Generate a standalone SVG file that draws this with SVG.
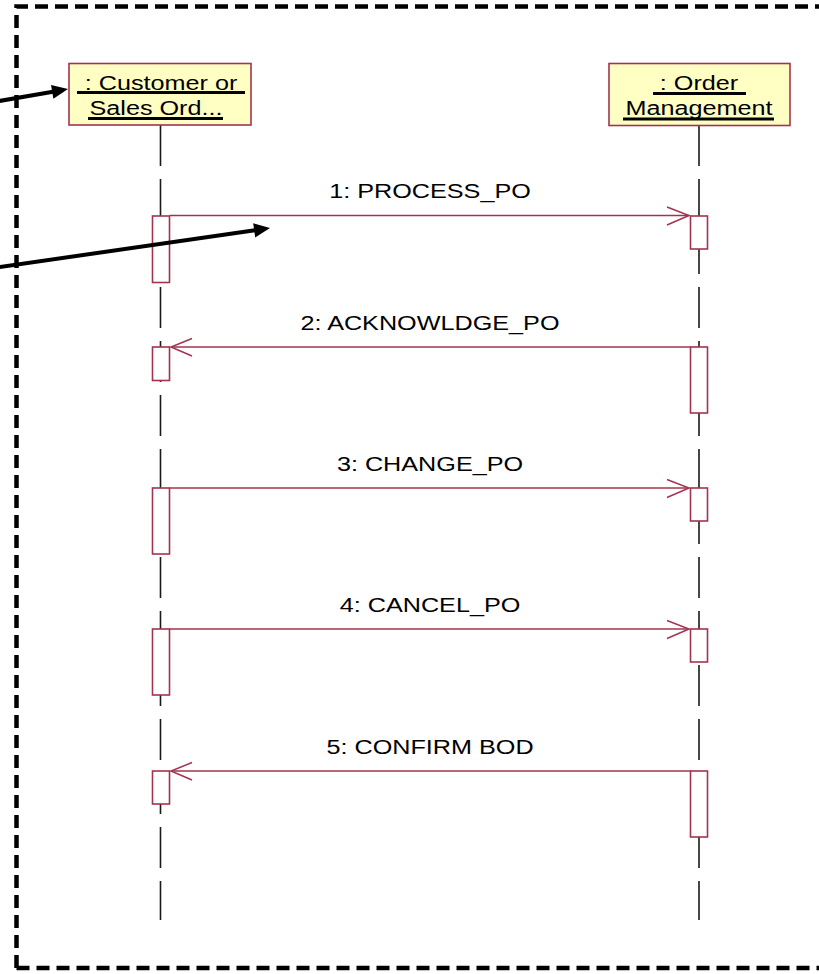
<svg xmlns="http://www.w3.org/2000/svg" width="819" height="974" viewBox="0 0 819 974">
  <style>
    .frame { fill: none; stroke: #000; stroke-width: 4.5; stroke-dasharray: 13 7; }
    .lifeline { fill: none; stroke: #1a1a1a; stroke-width: 1.6; stroke-dasharray: 41 13; }
    .obj { fill: #FFFFC4; stroke: #A3344F; stroke-width: 1.6; }
    .objtext { font-family: "Liberation Sans", Arial, sans-serif; font-size: 21px; fill: #000; text-anchor: middle; }
    .ul { stroke: #000; stroke-width: 3; }
    .act { fill: #fff; stroke: #A3344F; stroke-width: 1.6; }
    .msg { fill: none; stroke: #A3344F; stroke-width: 1.5; }
    .msgtext { font-family: "Liberation Sans", Arial, sans-serif; font-size: 21px; fill: #000; text-anchor: middle; }
    .note { fill: none; stroke: #000; stroke-width: 4; }
    .notehead { fill: #000; stroke: none; }
  </style>

  <rect x="0" y="0" width="819" height="974" fill="#fff"/>

  <g id="frame">
    <path class="frame" d="M16.5 968 L16.5 6.5 L830 6.5"/>
    <path class="frame" d="M16.5 968 L830 968"/>
  </g>

  <g id="lifelines">
    <line class="lifeline" x1="160.5" y1="125" x2="160.5" y2="920"/>
    <line class="lifeline" x1="699" y1="125" x2="699" y2="920"/>
  </g>

  <g id="customer">
    <rect class="obj" x="69" y="63.5" width="182" height="61.5"/>
    <text class="objtext" transform="translate(161,90) scale(1.2,1)">: Customer or</text>
    <line class="ul" x1="77" y1="92.5" x2="245" y2="92.5"/>
    <text class="objtext" transform="translate(156,115) scale(1.2,1)">Sales Ord...</text>
    <line class="ul" x1="88" y1="118.5" x2="223" y2="118.5"/>
  </g>

  <g id="order-management">
    <rect class="obj" x="609" y="63.5" width="181" height="62"/>
    <text class="objtext" transform="translate(699,90) scale(1.2,1)">: Order</text>
    <line class="ul" x1="653" y1="93.5" x2="746" y2="93.5"/>
    <text class="objtext" transform="translate(699,115) scale(1.2,1)">Management</text>
    <line class="ul" x1="623" y1="119" x2="774" y2="119"/>
  </g>

  <g id="activations">
    <rect class="act" x="152.5" y="216" width="17" height="66.5"/>
    <rect class="act" x="690.5" y="216" width="17" height="33"/>
    <rect class="act" x="152.5" y="347" width="17" height="33.5"/>
    <rect class="act" x="690.5" y="347" width="17" height="66"/>
    <rect class="act" x="152.5" y="488" width="17" height="66"/>
    <rect class="act" x="690.5" y="488" width="17" height="33"/>
    <rect class="act" x="152.5" y="629" width="17" height="66"/>
    <rect class="act" x="690.5" y="629" width="17" height="33"/>
    <rect class="act" x="690.5" y="771" width="17" height="66"/>
    <rect class="act" x="152.5" y="771" width="17" height="33"/>
  </g>

  <g id="messages">
    <line class="msg" x1="169.5" y1="215.5" x2="689" y2="215.5"/>
    <path class="msg" d="M667 207 L689 215.5 L667 225"/>
    <text class="msgtext" transform="translate(430,198) scale(1.2,1)">1: PROCESS_PO</text>

    <line class="msg" x1="690.5" y1="347" x2="171" y2="347"/>
    <path class="msg" d="M192 338.5 L171 347 L192 356"/>
    <text class="msgtext" transform="translate(430,330) scale(1.2,1)">2: ACKNOWLDGE_PO</text>

    <line class="msg" x1="169.5" y1="488" x2="689" y2="488"/>
    <path class="msg" d="M667 479.5 L689 488 L667 497.5"/>
    <text class="msgtext" transform="translate(430,471) scale(1.2,1)">3: CHANGE_PO</text>

    <line class="msg" x1="169.5" y1="629" x2="689" y2="629"/>
    <path class="msg" d="M667 620.5 L689 629 L667 638.5"/>
    <text class="msgtext" transform="translate(430,612) scale(1.2,1)">4: CANCEL_PO</text>

    <line class="msg" x1="690.5" y1="771" x2="171" y2="771"/>
    <path class="msg" d="M192 762.5 L171 771 L192 780"/>
    <text class="msgtext" transform="translate(430,754) scale(1.2,1)">5: CONFIRM BOD</text>
  </g>

  <g id="pointers">
    <line class="note" x1="-2" y1="101.2" x2="53" y2="91.7"/>
    <polygon class="notehead" points="68,89 53.4,98.7 51,84.9"/>
    <line class="note" x1="-2" y1="267.3" x2="255" y2="230.2"/>
    <polygon class="notehead" points="270,228 255.2,237.4 253.2,223.2"/>
  </g>
</svg>
